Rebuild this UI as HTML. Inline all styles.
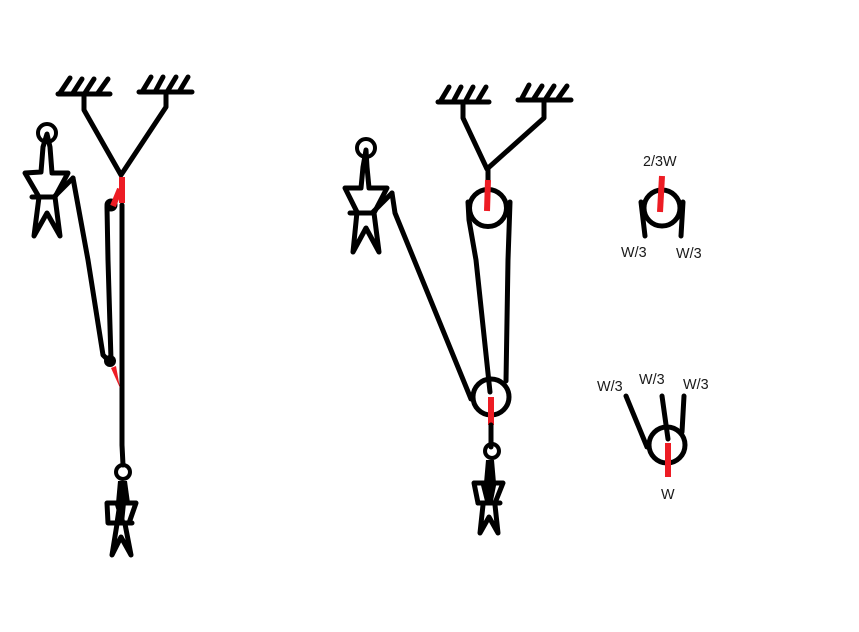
<!DOCTYPE html>
<html>
<head>
<meta charset="utf-8">
<style>
html,body{margin:0;padding:0;background:#fff;width:859px;height:632px;overflow:hidden}
svg{display:block}
text{font-family:"Liberation Sans",sans-serif;font-size:14.4px;fill:#1a1a1a}
.k{fill:none;stroke:#000;stroke-width:5;stroke-linecap:round;stroke-linejoin:round}
.r{fill:none;stroke:#ed1c24;stroke-width:6;stroke-linecap:butt;stroke-linejoin:round}
</style>
</head>
<body>
<svg width="859" height="632" viewBox="0 0 859 632" xmlns="http://www.w3.org/2000/svg">
<rect width="859" height="632" fill="#fff"/>

<!-- Left figure: supports -->
<path class="k" d="M58 94H110M60 93L70 78M73 93L82 79M85 93L94 79M98 93L108 79"/>
<path class="k" d="M139 92H192M142 92L151 77M155 92L163 77M167 92L176 77M179 92L188 77"/>
<path class="k" d="M84 94V110L121 175L166 107V93"/>

<!-- Left figure: ropes -->
<path class="k" d="M122 205V445L123 465"/>
<path class="k" d="M107 207L108 260L111 360"/>
<path class="k" d="M73 178L88 260L103 355L110 362"/>
<circle cx="111" cy="205" r="6.5" fill="#000"/>
<circle cx="110" cy="361" r="6" fill="#000"/>
<path d="M111 368L116 366L120 388Z" fill="#ed1c24"/>
<path class="r" d="M122 177V203"/>
<path class="r" d="M120 189L113 206"/>

<!-- Left person -->
<circle cx="47" cy="133" r="9" fill="none" stroke="#000" stroke-width="4"/>
<path class="k" d="M47 134L43 147L41 172L25 173L39 197L34 236L47 213L60 236L55 197L68 173L52 173L50 147Z"/>
<path class="k" d="M32 197H54M54 197L73 178"/>

<!-- Bottom-left person -->
<circle cx="123" cy="472" r="7" fill="none" stroke="#000" stroke-width="4"/>
<path d="M118 481H127L130 503H116Z" fill="#000"/>
<path class="k" d="M107 503H136L129 523H108ZM117 503L123 523M120 503L117 523"/>
<path class="k" d="M109 523H132M117 524L112 555L121 537L131 555L125 524"/>
<path d="M118 503H126L124 523H119Z" fill="#000"/>

<!-- Middle figure: supports -->
<path class="k" d="M438 102H489M440 102L449 87M453 102L461 87M465 102L473 87M477 102L486 87"/>
<path class="k" d="M518 100H571M521 100L529 85M533 100L542 86M545 100L554 86M557 100L567 86"/>
<path class="k" d="M463 102V118L487 169L544 118V102"/>
<path class="k" d="M488 169V182"/>

<!-- Middle figure: pulleys and ropes -->
<circle cx="488" cy="208" r="18.5" fill="none" stroke="#000" stroke-width="5"/>
<circle cx="491" cy="397" r="18" fill="none" stroke="#000" stroke-width="5"/>
<path class="k" d="M468 202L469 220L476 260L490 392"/>
<path class="k" d="M510 202L508 260L506 381"/>
<path class="k" d="M392 193L395 213L471 399"/>
<path class="r" d="M488 180L487 211"/>
<path class="r" d="M491 397V425"/>
<path class="k" d="M491 425V447"/>

<!-- Middle left person -->
<circle cx="366" cy="148" r="9" fill="none" stroke="#000" stroke-width="4"/>
<path class="k" d="M366 150L363 167L361 188H345L357 212L353 252L366 228L379 252L374 213L387 188H369L367 167Z"/>
<path class="k" d="M350 213H374M373 212L392 193"/>

<!-- Middle bottom person -->
<circle cx="492" cy="451" r="7" fill="none" stroke="#000" stroke-width="4"/>
<path d="M486 460H494L496 483H484Z" fill="#000"/>
<path class="k" d="M474 483H503L495 503H478ZM483 483L488 503M494 483L490 503"/>
<path class="k" d="M478 503H500M483 505L480 533L489 517L498 533L495 505"/>
<path d="M485 483H493L491 503H488Z" fill="#000"/>

<!-- Upper right diagram -->
<circle cx="662" cy="208" r="18" fill="none" stroke="#000" stroke-width="5"/>
<path class="k" d="M641 202L645 236M683 202L681 236"/>
<path class="r" d="M662 176L660 212"/>
<text x="643" y="166">2/3W</text>
<text x="621" y="257">W/3</text>
<text x="676" y="258">W/3</text>

<!-- Lower right diagram -->
<circle cx="667" cy="445" r="18" fill="none" stroke="#000" stroke-width="5"/>
<path class="k" d="M626 396L647 447"/>
<path class="k" d="M662 396L668 439M684 396L682 432"/>
<path class="r" d="M668 443V477"/>
<text x="597" y="391">W/3</text>
<text x="639" y="384">W/3</text>
<text x="683" y="389">W/3</text>
<text x="661" y="499">W</text>
</svg>
</body>
</html>
